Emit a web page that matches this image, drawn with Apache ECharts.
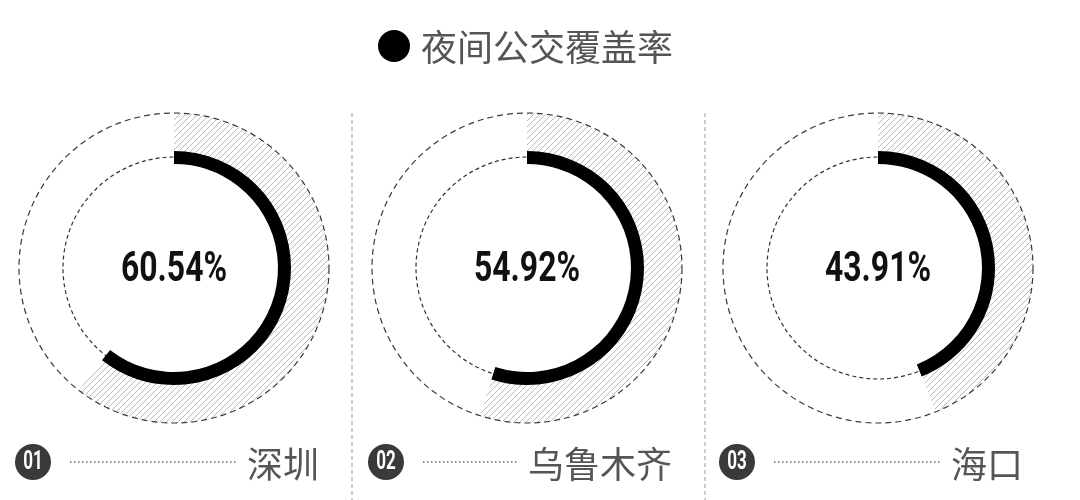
<!DOCTYPE html>
<html>
<head>
<meta charset="utf-8">
<script src="https://cdn.jsdelivr.net/npm/echarts@6/dist/echarts.min.js"></script>
<style>
  html, body { margin: 0; padding: 0; background: #fff; }
  #chart-container { width: 1080px; height: 500px; }
</style>
</head>
<body>
<div id="chart-container"></div>
<script>
// data
const chartTitle = "夜间公交覆盖率";
const cities = ["深圳", "乌鲁木齐", "海口"];
const badges = ["01", "02", "03"];
const coverage = [60.54, 54.92, 43.91];

// layout
const centersX = [174, 527, 878];
const centerY = 268;
const outerR = 155;
const innerR = 111;
const rowY = 462;

const numFont = 'Roboto, "Liberation Sans", sans-serif';
const cjkFont = '"Noto Sans CJK SC", "Noto Sans", sans-serif';

var dom = document.getElementById("chart-container");
var myChart = echarts.init(dom, null, { renderer: "canvas" });

// hatch pattern for the covered ring
function makeHatch() {
  const c = document.createElement("canvas");
  c.width = 6;
  c.height = 6;
  const ctx = c.getContext("2d");
  ctx.strokeStyle = "#b0b0b0";
  ctx.lineWidth = 0.9;
  ctx.beginPath();
  ctx.moveTo(0, 6); ctx.lineTo(6, 0);
  ctx.moveTo(-1, 1); ctx.lineTo(1, -1);
  ctx.moveTo(5, 7); ctx.lineTo(7, 5);
  ctx.stroke();
  return c;
}
const hatch = { image: makeHatch(), repeat: "repeat" };

let series = [];
let graphics = [];

coverage.forEach(function (v, i) {
  const cx = centersX[i];
  const rest = +(100 - v).toFixed(2);

  // hatched ring
  series.push({
    type: "pie",
    silent: true,
    center: [cx, centerY],
    radius: [113, outerR],
    startAngle: 90,
    clockwise: true,
    label: { show: false },
    labelLine: { show: false },
    emphasis: { disabled: true },
    z: 1,
    data: [
      { value: v, itemStyle: { color: hatch, borderWidth: 0 } },
      { value: rest, itemStyle: { color: "transparent", borderWidth: 0 } },
    ],
  });

  // black arc
  series.push({
    type: "pie",
    silent: true,
    center: [cx, centerY],
    radius: [104, 117],
    startAngle: 90,
    clockwise: true,
    label: { show: false },
    labelLine: { show: false },
    emphasis: { disabled: true },
    z: 3,
    data: [
      { value: v, itemStyle: { color: "#000", borderWidth: 0 } },
      { value: rest, itemStyle: { color: "transparent", borderWidth: 0 } },
    ],
  });

  // value in the middle (condensed look)
  graphics.push({
    type: "text",
    x: cx,
    y: centerY + 2,
    scaleX: 0.76,
    style: {
      text: v.toFixed(2) + "%",
      fill: "#111",
      font: "bold 42px " + numFont,
      align: "center",
      verticalAlign: "middle",
    },
    z: 5,
    silent: true,
  });

  // dashed rings
  graphics.push({
    type: "circle",
    shape: { cx: cx, cy: centerY, r: outerR },
    style: { fill: "none", stroke: "#3a3a3a", lineWidth: 1.2, lineDash: [6, 4] },
    z: 2,
    silent: true,
  });
  graphics.push({
    type: "circle",
    shape: { cx: cx, cy: centerY, r: innerR },
    style: { fill: "none", stroke: "#333", lineWidth: 1.2, lineDash: [4, 3] },
    z: 0,
    silent: true,
  });

  // bottom row: badge, dotted leader, city
  graphics.push({
    type: "circle",
    shape: { cx: cx - 141, cy: rowY, r: 18 },
    style: { fill: "#3a3a3a" },
    silent: true,
  });
  graphics.push({
    type: "text",
    x: cx - 141,
    y: rowY + 1,
    scaleX: 0.68,
    z: 3,
    style: {
      text: badges[i],
      fill: "#fff",
      font: "bold 25px " + numFont,
      align: "center",
      verticalAlign: "middle",
    },
    silent: true,
  });
  const textRight = cx + 145;
  const textW = cities[i].length * 36;
  graphics.push({
    type: "line",
    shape: { x1: cx - 104, y1: rowY, x2: textRight - textW - 10, y2: rowY },
    style: { stroke: "#666", lineWidth: 1.5, lineDash: [1.5, 2.5] },
    silent: true,
  });
  graphics.push({
    type: "text",
    x: textRight,
    y: rowY + 2,
    style: {
      text: cities[i],
      fill: "#555",
      font: "36px " + cjkFont,
      align: "right",
      verticalAlign: "middle",
    },
    silent: true,
  });
});

// separators
[352, 705].forEach(function (x) {
  graphics.push({
    type: "line",
    shape: { x1: x, y1: 113, x2: x, y2: 500 },
    style: { stroke: "#999", lineWidth: 1, lineDash: [4, 3] },
    silent: true,
  });
});

// title
graphics.push({
  type: "circle",
  shape: { cx: 394, cy: 46, r: 16 },
  style: { fill: "#000" },
  silent: true,
});
graphics.push({
  type: "text",
  x: 421,
  y: 47,
  style: {
    text: chartTitle,
    fill: "#555",
    font: "36px " + cjkFont,
    verticalAlign: "middle",
  },
  silent: true,
});

var option = {
  animation: false,
  backgroundColor: "#fff",
  series: series,
  graphic: graphics,
};

myChart.setOption(option);
window.addEventListener("resize", myChart.resize);
</script>
</body>
</html>
